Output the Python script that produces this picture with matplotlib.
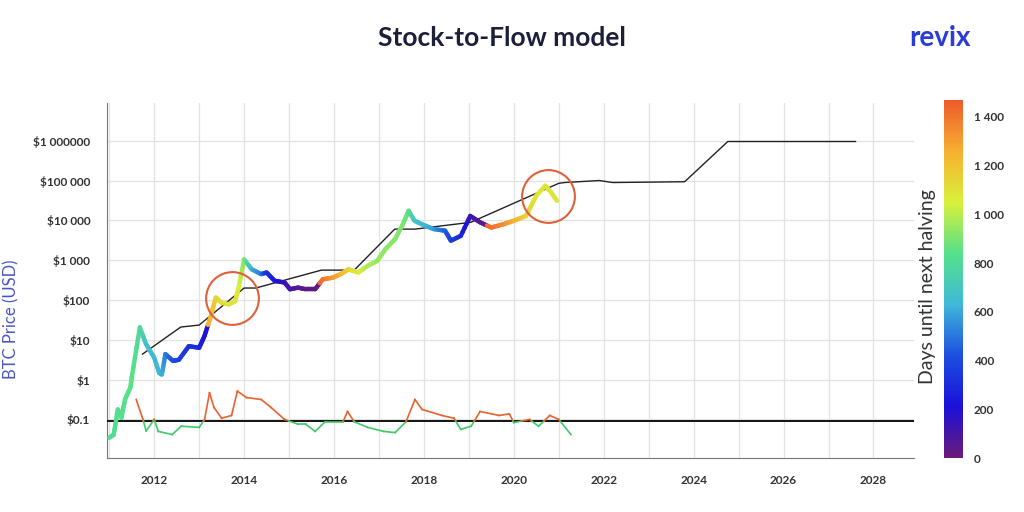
import matplotlib
matplotlib.use("Agg")
import matplotlib.pyplot as plt
from matplotlib.colors import LinearSegmentedColormap, Normalize
from matplotlib.collections import LineCollection
import numpy as np

plt.rcParams["font.family"] = ["Lato", "DejaVu Sans"]

# BTC price (year, USD) and days until next halving (colour)
price_years = [2011.0, 2011.1, 2011.19, 2011.27, 2011.35, 2011.47, 2011.5, 2011.68, 2011.82, 2012.0,
               2012.11, 2012.17, 2012.25, 2012.42, 2012.55, 2012.77, 2013.0, 2013.12, 2013.25, 2013.37,
               2013.5, 2013.66, 2013.8, 2013.88, 2014.0, 2014.17, 2014.38, 2014.5, 2014.68, 2014.9,
               2015.02, 2015.2, 2015.37, 2015.58, 2015.75, 2015.97, 2016.15, 2016.32, 2016.54, 2016.75,
               2016.96, 2017.14, 2017.36, 2017.53, 2017.66, 2017.79, 2017.96, 2018.22, 2018.47, 2018.6,
               2018.82, 2019.03, 2019.25, 2019.5, 2019.76, 2020.0, 2020.27, 2020.5, 2020.7, 2020.83, 2020.96]
price_log = [-1.46, -1.38, -0.75, -0.96, -0.5, -0.2, 0.05, 1.31, 0.89, 0.55,
             0.17, 0.13, 0.64, 0.47, 0.5, 0.84, 0.8, 1.1, 1.56, 2.06,
             1.93, 1.89, 1.97, 2.31, 3.02, 2.77, 2.65, 2.69, 2.48, 2.44,
             2.27, 2.31, 2.27, 2.27, 2.52, 2.56, 2.65, 2.77, 2.69, 2.86,
             2.98, 3.27, 3.53, 3.9, 4.24, 3.99, 3.9, 3.78, 3.74, 3.49,
             3.61, 4.11, 3.95, 3.82, 3.9, 3.99, 4.11, 4.62, 4.87, 4.7, 4.49]
price_days = [820, 820, 830, 830, 840, 850, 850, 800, 680, 640,
              630, 620, 520, 420, 380, 330, 300, 220, 1250, 1150,
              1100, 1090, 1090, 1060, 920, 620, 520, 330, 250, 150,
              100, 60, 40, 30, 1420, 1320, 1250, 1150, 1060, 980,
              950, 930, 920, 900, 860, 700, 650, 580, 460, 380,
              300, 150, 50, 1420, 1360, 1260, 1160, 1090, 1080, 1080, 1080]

# Stock-to-flow model line
s2f_years = [2011.74, 2012.59, 2013.0, 2014.0, 2014.26, 2015.72, 2016.45, 2017.35, 2017.8,
             2019.04, 2021.0, 2021.13, 2021.9, 2022.2, 2023.8, 2024.76, 2027.6]
s2f_log = [0.64, 1.32, 1.37, 2.3, 2.3, 2.75, 2.75, 3.78, 3.78,
           3.95, 4.93, 4.95, 5.0, 4.95, 4.97, 5.98, 5.98]

# Oscillator around the $0.1 line
osc_years = [2011.6, 2011.75, 2011.82, 2012.0, 2012.09, 2012.4, 2012.6, 2013.0, 2013.12, 2013.23,
             2013.33, 2013.5, 2013.72, 2013.85, 2014.05, 2014.38, 2014.6, 2014.9, 2015.2, 2015.37,
             2015.58, 2015.8, 2016.2, 2016.3, 2016.45, 2016.75, 2017.1, 2017.36, 2017.6, 2017.8,
             2017.96, 2018.4, 2018.67, 2018.82, 2019.05, 2019.25, 2019.67, 2019.9, 2020.0, 2020.35,
             2020.55, 2020.8, 2021.0, 2021.27]
osc_log = [-0.5, -1.0, -1.29, -1.0, -1.3, -1.38, -1.17, -1.2, -1.0, -0.33,
           -0.7, -0.97, -0.9, -0.29, -0.45, -0.5, -0.7, -1.0, -1.12, -1.12,
           -1.3, -1.06, -1.06, -0.8, -1.06, -1.2, -1.3, -1.33, -1.06, -0.5,
           -0.75, -0.9, -0.97, -1.25, -1.17, -0.8, -0.9, -0.86, -1.08, -1.0,
           -1.17, -0.9, -1.0, -1.38]
osc_level_log = -1.04

circle_years = [2013.72, 2020.75]
circle_prices = [110, 42000]

year_ticks = [2012, 2014, 2016, 2018, 2020, 2022, 2024, 2026, 2028]
price_ticks = [0.1, 1, 10, 100, 1000, 10000, 100000, 1000000]
price_labels = ["$0.1", "$1", "$10", "$100", "$1 000", "$10 000", "$100 000", "$1 000000"]
cbar_ticks = [0, 200, 400, 600, 800, 1000, 1200, 1400]
cbar_labels = ["0", "200", "400", "600", "800", "1 000", "1 200", "1 400"]

cmap = LinearSegmentedColormap.from_list(
    "halving", ["#6a1b7a", "#1c10d8", "#1c4fe0", "#3fb8d8", "#55e08a", "#d8f03a", "#f7b030", "#ee5a2c"])
norm = Normalize(0, 1470)

fig = plt.figure(figsize=(10.24, 5.12), dpi=100)
ax = fig.add_axes([0.1045, 0.105, 0.788, 0.694])
cax = fig.add_axes([0.922, 0.105, 0.018, 0.70])

ax.set_yscale("log")
ax.set_xlim(2010.95, 2028.9)
ax.set_ylim(0.0106, 8.9e6)
ax.set_xticks(year_ticks)
ax.set_xticks([y for y in range(2011, 2029) if y not in year_ticks], minor=True)
ax.grid(True, which="major", axis="both", color="#e2e2e2", linewidth=0.9)
ax.grid(True, which="minor", axis="x", color="#e2e2e2", linewidth=0.9)
ax.set_xticklabels([str(y) for y in year_ticks], fontsize=8.5, fontweight="bold", color="#333")
ax.set_yticks(price_ticks)
ax.set_yticklabels(price_labels, fontsize=8.5, fontweight="bold", color="#333")
ax.yaxis.set_minor_locator(matplotlib.ticker.NullLocator())
ax.tick_params(length=0, pad=12)
ax.tick_params(axis="x", which="minor", length=0)
for s in ["top", "right"]:
    ax.spines[s].set_visible(False)
for s in ["left", "bottom"]:
    ax.spines[s].set_color("#777")
ax.set_axisbelow(True)

# model line
ax.plot(s2f_years, 10 ** np.array(s2f_log), color="#222", linewidth=1.0, zorder=3)

# coloured price line with gradient along each segment
segs, cs = [], []
for i in range(len(price_years) - 1):
    ts = np.linspace(0, 1, 6)
    for t0, t1 in zip(ts[:-1], ts[1:]):
        x0 = price_years[i] + t0 * (price_years[i + 1] - price_years[i])
        x1 = price_years[i] + t1 * (price_years[i + 1] - price_years[i])
        l0 = price_log[i] + t0 * (price_log[i + 1] - price_log[i])
        l1 = price_log[i] + t1 * (price_log[i + 1] - price_log[i])
        segs.append([(x0, 10 ** l0), (x1, 10 ** l1)])
        d0, d1 = price_days[i], price_days[i + 1]
        cs.append(d0 + (t0 + t1) / 2 * (d1 - d0) if abs(d1 - d0) < 600 else (d0 if t0 < 0.5 else d1))
lc = LineCollection(segs, colors=cmap(norm(np.array(cs))), linewidths=3.2, capstyle="round", zorder=4)
ax.add_collection(lc)

# oscillator, split where it crosses the level
ax.axhline(10 ** osc_level_log, color="#111", linewidth=1.4, zorder=3)
for i in range(len(osc_years) - 1):
    xa, xb = osc_years[i], osc_years[i + 1]
    la, lb = osc_log[i], osc_log[i + 1]
    pieces = [(xa, la, xb, lb)]
    if (la - osc_level_log) * (lb - osc_level_log) < 0:
        t = (osc_level_log - la) / (lb - la)
        xm = xa + t * (xb - xa)
        pieces = [(xa, la, xm, osc_level_log), (xm, osc_level_log, xb, lb)]
    for p in pieces:
        mid = (p[1] + p[3]) / 2
        c = "#e8622e" if mid > osc_level_log else "#3ec96a"
        ax.plot([p[0], p[2]], [10 ** p[1], 10 ** p[3]], color=c, linewidth=1.2, zorder=4)

# highlight circles
ax.plot(circle_years, circle_prices, "o", markersize=38, markerfacecolor="none",
        markeredgecolor="#e0603a", markeredgewidth=1.5, zorder=5)

ax.set_ylabel("BTC Price (USD)", color="#4a55c8", fontsize=12, labelpad=10)
ax.yaxis.set_label_coords(-0.108, 0.39)

sm = plt.cm.ScalarMappable(norm=norm, cmap=cmap)
cb = fig.colorbar(sm, cax=cax)
cb.outline.set_visible(False)
cb.set_ticks(cbar_ticks)
cb.set_ticklabels(cbar_labels)
cax.tick_params(length=0, labelsize=8.5, pad=8)
for lbl in cax.get_yticklabels():
    lbl.set_fontweight("bold")
    lbl.set_color("#333")
fig.text(0.906, 0.44, "Days until next halving", rotation=90, ha="center", va="center",
         fontsize=14, color="#333")

fig.text(0.49, 0.925, "Stock-to-Flow model", ha="center", va="center",
         fontsize=19, fontweight="bold", color="#1c1f3a")
fig.text(0.918, 0.925, "revix", ha="center", va="center",
         fontsize=20, fontweight="bold", color="#2a3bd6")

fig.savefig("out.png", dpi=100)
